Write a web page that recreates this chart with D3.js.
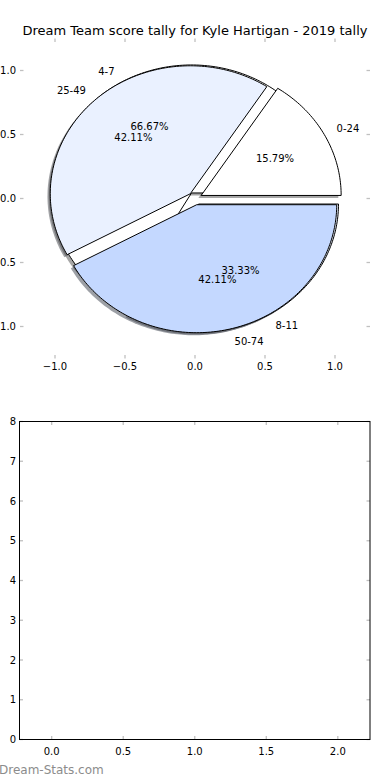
<!DOCTYPE html>
<html>
<head>
<meta charset="utf-8">
<script src="https://cdn.jsdelivr.net/npm/d3@7"></script>
<style>
  body { margin: 0; background: #fff; }
  text { font-family: "DejaVu Sans", sans-serif; }
</style>
</head>
<body>
<div id="chart"></div>
<script>
// data
const titleText = "Dream Team score tally for Kyle Hartigan - 2019 tally";
const outerLabels = ["0-24", "25-49", "50-74"];
const outerValues = [3, 8, 8];
const innerLabels = ["4-7", "8-11"];
const innerValues = [2, 1];
const sliceColors = ["#ffffff", "#eaf1ff", "#c4d8ff"];
const pieTicks = [-1.0, -0.5, 0.0, 0.5, 1.0];
const emptyXTicks = [0.0, 0.5, 1.0, 1.5, 2.0];
const emptyYTicks = [0, 1, 2, 3, 4, 5, 6, 7, 8];

(function() {
    const W = 390, H = 780;
    const svg = d3.select("#chart")
        .append("svg")
        .attr("width", W)
        .attr("height", H);

    // 1. Pie axes (matplotlib style, no frame, only ticks)
    const px = d3.scaleLinear().domain([-1.25, 1.25]).range([20, 370]);
    const py = d3.scaleLinear().domain([-1.25, 1.25]).range([358.5, 38.5]);

    const explode = 0.05;
    const pieGen = d3.pie().sort(null).startAngle(0).endAngle(2 * Math.PI);

    const line = d3.line().x(d => px(d[0])).y(d => py(d[1]));

    function wedge(a0, a1, ox, oy) {
        const pts = [[ox, oy]];
        const n = Math.max(8, Math.ceil((a1 - a0) / 0.02));
        for (let i = 0; i <= n; i++) {
            const t = a0 + (a1 - a0) * i / n;
            pts.push([ox + Math.cos(t), oy + Math.sin(t)]);
        }
        return line(pts) + "Z";
    }

    function buildSlices(values, labels) {
        return pieGen(values).map((s, i) => {
            const mid = (s.startAngle + s.endAngle) / 2;
            return {
                label: labels[i],
                a0: s.startAngle,
                a1: s.endAngle,
                mid: mid,
                ox: explode * Math.cos(mid),
                oy: explode * Math.sin(mid),
                color: sliceColors[i % sliceColors.length],
                pct: (s.value / d3.sum(values) * 100).toFixed(2) + "%"
            };
        });
    }

    const inner = buildSlices(innerValues, innerLabels);
    const outer = buildSlices(outerValues, outerLabels);
    const allSlices = inner.concat(outer);

    // 2. Shadows go under every wedge
    const shade = c => {
        const k = d3.rgb(c);
        return d3.rgb(k.r * 0.3, k.g * 0.3, k.b * 0.3);
    };
    svg.append("g").selectAll("path")
        .data(allSlices)
        .enter()
        .append("path")
        .attr("d", d => wedge(d.a0, d.a1, d.ox - 0.02, d.oy - 0.02))
        .attr("fill", d => shade(d.color))
        .attr("fill-opacity", 0.5);

    // 3. Wedges, second pie first, first pie on top
    svg.append("g").selectAll("path")
        .data(allSlices)
        .enter()
        .append("path")
        .attr("d", d => wedge(d.a0, d.a1, d.ox, d.oy))
        .attr("fill", d => d.color)
        .attr("stroke", "#000")
        .attr("stroke-width", 1)
        .attr("stroke-linejoin", "miter");

    // 4. Labels and percentages
    const labelG = svg.append("g")
        .style("font-size", "10px")
        .attr("fill", "#000");

    allSlices.forEach(d => {
        const lx = 1.1 * Math.cos(d.mid) + d.ox;
        const ly = 1.1 * Math.sin(d.mid) + d.oy;
        labelG.append("text")
            .attr("x", px(lx))
            .attr("y", py(ly))
            .attr("text-anchor", lx > 0 ? "start" : "end")
            .attr("dominant-baseline", "central")
            .text(d.label);

        const tx = 0.6 * Math.cos(d.mid) + d.ox;
        const ty = 0.6 * Math.sin(d.mid) + d.oy;
        labelG.append("text")
            .attr("x", px(tx))
            .attr("y", py(ty))
            .attr("text-anchor", "middle")
            .attr("dominant-baseline", "central")
            .text(d.pct);
    });

    // 5. Ticks for the pie axes
    const tickColor = "#c0c0c0";
    const fmt = d3.format(".1f");
    const tg = svg.append("g").attr("stroke", tickColor).attr("stroke-width", 1.3);

    function drawTicks(g, xs, ys, X, Y, x0, x1, y0, y1) {
        xs.forEach(v => {
            g.append("line").attr("x1", X(v)).attr("x2", X(v)).attr("y1", y1).attr("y2", y1 + 3.5);
            g.append("line").attr("x1", X(v)).attr("x2", X(v)).attr("y1", y0).attr("y2", y0 - 3.5);
        });
        ys.forEach(v => {
            g.append("line").attr("x1", x0).attr("x2", x0 + 3.5).attr("y1", Y(v)).attr("y2", Y(v));
            g.append("line").attr("x1", x1).attr("x2", x1 - 3.5).attr("y1", Y(v)).attr("y2", Y(v));
        });
    }
    drawTicks(tg, pieTicks, pieTicks, px, py, 20, 370, 358.5, 38.5);

    const tickText = svg.append("g").style("font-size", "10px").attr("fill", "#000");
    pieTicks.forEach(v => {
        tickText.append("text")
            .attr("x", px(v))
            .attr("y", 369.5)
            .attr("text-anchor", "middle")
            .text(fmt(v));
        tickText.append("text")
            .attr("x", 16)
            .attr("y", py(v))
            .attr("text-anchor", "end")
            .attr("dominant-baseline", "central")
            .text(fmt(v));
    });

    // 6. Title
    svg.append("text")
        .attr("x", 195)
        .attr("y", 34.5)
        .attr("text-anchor", "middle")
        .style("font-size", "13px")
        .text(titleText);

    // 7. Empty lower axes
    const bx = d3.scaleLinear().domain([-0.225, 2.225]).range([19.5, 370]);
    const by = d3.scaleLinear().domain([0, 8]).range([739.5, 421.5]);

    const bg = svg.append("g").attr("stroke", tickColor).attr("stroke-width", 1.3);
    drawTicks(bg, emptyXTicks, emptyYTicks, bx, by, 19.5, 370, 739.5, 421.5);

    svg.append("rect")
        .attr("x", 19.5)
        .attr("y", 421.5)
        .attr("width", 370 - 19.5)
        .attr("height", 739.5 - 421.5)
        .attr("fill", "none")
        .attr("stroke", "#000")
        .attr("stroke-width", 1);

    emptyXTicks.forEach(v => {
        tickText.append("text")
            .attr("x", bx(v))
            .attr("y", 754.5)
            .attr("text-anchor", "middle")
            .text(fmt(v));
    });
    emptyYTicks.forEach(v => {
        tickText.append("text")
            .attr("x", 16)
            .attr("y", by(v))
            .attr("text-anchor", "end")
            .attr("dominant-baseline", "central")
            .text(v);
    });

    // 8. Watermark
    svg.append("text")
        .attr("x", -1)
        .attr("y", 774)
        .style("font-size", "12px")
        .attr("fill", "#8c8c8c")
        .text("Dream-Stats.com");
})();
</script>
</body>
</html>
